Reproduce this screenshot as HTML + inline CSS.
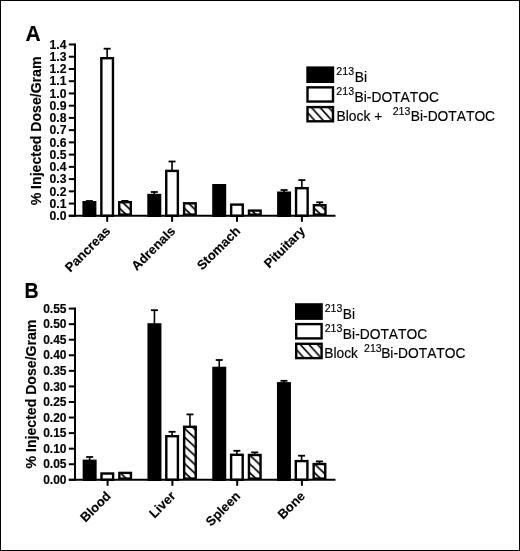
<!DOCTYPE html>
<html><head><meta charset="utf-8"><style>
html,body{margin:0;padding:0;background:#fff;font-family:"Liberation Sans",sans-serif;}
svg{display:block;will-change:transform;}
.ax{stroke:#000;stroke-width:2;}
text{font-family:"Liberation Sans",sans-serif;fill:#000;font-kerning:none;stroke:#000;stroke-width:0.15px;stroke-linejoin:round;}
.bar{stroke:#000;stroke-width:2.4;}
.eb{stroke:#000;stroke-width:1.6;}
.ec{stroke:#000;stroke-width:1.8;}
</style></head><body>
<svg width="520" height="551" viewBox="0 0 520 551">
<defs>
<pattern id="hatch" patternUnits="userSpaceOnUse" width="9.263" height="8.800" patternTransform="translate(0 3.100)"><rect x="-1" y="-1" width="11.263" height="10.800" fill="#fff"/><path d="M-9.263,-8.800 L18.526,17.600 M-9.263,0 L9.263,17.600 M0,-8.800 L18.526,8.800" stroke="#000" stroke-width="1.6"/></pattern>
<pattern id="hatchL" patternUnits="userSpaceOnUse" width="8.600" height="9.460" patternTransform="translate(0 3.260)"><rect x="-1" y="-1" width="10.600" height="11.460" fill="#fff"/><path d="M-8.600,-9.460 L17.200,18.920 M-8.600,0 L8.600,18.920 M0,-9.460 L17.200,9.460" stroke="#000" stroke-width="1.7"/></pattern>

</defs>
<rect x="0" y="0" width="520" height="551" fill="#fff"/>
<rect x="0.5" y="0.5" width="519" height="550" fill="none" stroke="#000" stroke-width="1"/>
<g fill="#000">
<text x="0.00" y="0" transform="translate(25.58 40.50) scale(0.9450 1.0000)" font-size="22.24" font-weight="bold">A</text>
<text x="0.00" y="0" transform="translate(24.54 297.90) scale(0.8987 1.0000)" font-size="21.80" font-weight="bold">B</text>
<text x="-74.44" y="0" transform="translate(41.00 130.90) rotate(-90)" font-size="14.10" font-weight="bold">% Injected Dose/Gram</text>
<text x="-74.44" y="0" transform="translate(36.20 394.00) rotate(-90)" font-size="14.10" font-weight="bold">% Injected Dose/Gram</text>
<line x1="75.0" y1="43.50" x2="75.0" y2="216.80" class="ax"/>
<line x1="68.8" y1="215.80" x2="75.0" y2="215.80" class="ax"/>
<text x="-16.96" y="0" transform="translate(66.50 220.00)" font-size="12.20" font-weight="bold">0.0</text>
<line x1="68.8" y1="203.56" x2="75.0" y2="203.56" class="ax"/>
<text x="-16.96" y="0" transform="translate(66.50 207.76)" font-size="12.20" font-weight="bold">0.1</text>
<line x1="68.8" y1="191.33" x2="75.0" y2="191.33" class="ax"/>
<text x="-16.96" y="0" transform="translate(66.50 195.53)" font-size="12.20" font-weight="bold">0.2</text>
<line x1="68.8" y1="179.09" x2="75.0" y2="179.09" class="ax"/>
<text x="-16.96" y="0" transform="translate(66.50 183.28)" font-size="12.20" font-weight="bold">0.3</text>
<line x1="68.8" y1="166.86" x2="75.0" y2="166.86" class="ax"/>
<text x="-16.96" y="0" transform="translate(66.50 171.06)" font-size="12.20" font-weight="bold">0.4</text>
<line x1="68.8" y1="154.62" x2="75.0" y2="154.62" class="ax"/>
<text x="-16.96" y="0" transform="translate(66.50 158.82)" font-size="12.20" font-weight="bold">0.5</text>
<line x1="68.8" y1="142.38" x2="75.0" y2="142.38" class="ax"/>
<text x="-16.96" y="0" transform="translate(66.50 146.58)" font-size="12.20" font-weight="bold">0.6</text>
<line x1="68.8" y1="130.15" x2="75.0" y2="130.15" class="ax"/>
<text x="-16.96" y="0" transform="translate(66.50 134.35)" font-size="12.20" font-weight="bold">0.7</text>
<line x1="68.8" y1="117.91" x2="75.0" y2="117.91" class="ax"/>
<text x="-16.96" y="0" transform="translate(66.50 122.11)" font-size="12.20" font-weight="bold">0.8</text>
<line x1="68.8" y1="105.68" x2="75.0" y2="105.68" class="ax"/>
<text x="-16.96" y="0" transform="translate(66.50 109.88)" font-size="12.20" font-weight="bold">0.9</text>
<line x1="68.8" y1="93.44" x2="75.0" y2="93.44" class="ax"/>
<text x="-16.96" y="0" transform="translate(66.50 97.64)" font-size="12.20" font-weight="bold">1.0</text>
<line x1="68.8" y1="81.20" x2="75.0" y2="81.20" class="ax"/>
<text x="-16.96" y="0" transform="translate(66.50 85.40)" font-size="12.20" font-weight="bold">1.1</text>
<line x1="68.8" y1="68.97" x2="75.0" y2="68.97" class="ax"/>
<text x="-16.96" y="0" transform="translate(66.50 73.23)" font-size="12.20" font-weight="bold">1.2</text>
<line x1="68.8" y1="56.73" x2="75.0" y2="56.73" class="ax"/>
<text x="-16.96" y="0" transform="translate(66.50 60.92)" font-size="12.20" font-weight="bold">1.3</text>
<line x1="68.8" y1="44.50" x2="75.0" y2="44.50" class="ax"/>
<text x="-16.96" y="0" transform="translate(66.50 48.69)" font-size="12.20" font-weight="bold">1.4</text>
<line x1="75.0" y1="307.58" x2="75.0" y2="480.80" class="ax"/>
<line x1="68.8" y1="479.80" x2="75.0" y2="479.80" class="ax"/>
<text x="-23.36" y="0" transform="translate(66.49 483.93)" font-size="12.00" font-weight="bold">0.00</text>
<line x1="68.8" y1="464.24" x2="75.0" y2="464.24" class="ax"/>
<text x="-23.36" y="0" transform="translate(66.49 468.37)" font-size="12.00" font-weight="bold">0.05</text>
<line x1="68.8" y1="448.67" x2="75.0" y2="448.67" class="ax"/>
<text x="-23.36" y="0" transform="translate(66.49 452.80)" font-size="12.00" font-weight="bold">0.10</text>
<line x1="68.8" y1="433.11" x2="75.0" y2="433.11" class="ax"/>
<text x="-23.36" y="0" transform="translate(66.49 437.24)" font-size="12.00" font-weight="bold">0.15</text>
<line x1="68.8" y1="417.54" x2="75.0" y2="417.54" class="ax"/>
<text x="-23.36" y="0" transform="translate(66.49 421.67)" font-size="12.00" font-weight="bold">0.20</text>
<line x1="68.8" y1="401.98" x2="75.0" y2="401.98" class="ax"/>
<text x="-23.36" y="0" transform="translate(66.49 406.11)" font-size="12.00" font-weight="bold">0.25</text>
<line x1="68.8" y1="386.41" x2="75.0" y2="386.41" class="ax"/>
<text x="-23.36" y="0" transform="translate(66.49 390.53)" font-size="12.00" font-weight="bold">0.30</text>
<line x1="68.8" y1="370.85" x2="75.0" y2="370.85" class="ax"/>
<text x="-23.36" y="0" transform="translate(66.49 374.97)" font-size="12.00" font-weight="bold">0.35</text>
<line x1="68.8" y1="355.28" x2="75.0" y2="355.28" class="ax"/>
<text x="-23.36" y="0" transform="translate(66.49 359.41)" font-size="12.00" font-weight="bold">0.40</text>
<line x1="68.8" y1="339.72" x2="75.0" y2="339.72" class="ax"/>
<text x="-23.36" y="0" transform="translate(66.49 343.85)" font-size="12.00" font-weight="bold">0.45</text>
<line x1="68.8" y1="324.15" x2="75.0" y2="324.15" class="ax"/>
<text x="-23.36" y="0" transform="translate(66.49 328.28)" font-size="12.00" font-weight="bold">0.50</text>
<line x1="68.8" y1="308.58" x2="75.0" y2="308.58" class="ax"/>
<text x="-23.36" y="0" transform="translate(66.49 312.72)" font-size="12.00" font-weight="bold">0.55</text>
<line x1="89.40" y1="201.00" x2="89.40" y2="202.00" class="eb"/>
<line x1="85.90" y1="201.00" x2="92.90" y2="201.00" class="ec"/>
<rect x="83.60" y="202.20" width="11.60" height="13.60" fill="#000" class="bar"/>
<line x1="107.15" y1="48.70" x2="107.15" y2="58.00" class="eb"/>
<line x1="103.65" y1="48.70" x2="110.65" y2="48.70" class="ec"/>
<rect x="101.35" y="58.20" width="11.60" height="157.60" fill="#fff" class="bar"/>
<line x1="125.00" y1="200.90" x2="125.00" y2="202.00" class="eb"/>
<line x1="121.50" y1="200.90" x2="128.50" y2="200.90" class="ec"/>
<g transform="translate(120.40 214.80)"><rect x="-1.20" y="-12.60" width="11.60" height="12.40" fill="url(#hatch)" class="bar"/></g>
<line x1="154.30" y1="192.00" x2="154.30" y2="194.80" class="eb"/>
<line x1="150.80" y1="192.00" x2="157.80" y2="192.00" class="ec"/>
<rect x="148.50" y="195.00" width="11.60" height="20.80" fill="#000" class="bar"/>
<line x1="172.05" y1="161.50" x2="172.05" y2="170.70" class="eb"/>
<line x1="168.55" y1="161.50" x2="175.55" y2="161.50" class="ec"/>
<rect x="166.25" y="170.90" width="11.60" height="44.90" fill="#fff" class="bar"/>
<g transform="translate(185.30 214.80)"><rect x="-1.20" y="-11.50" width="11.60" height="11.30" fill="url(#hatch)" class="bar"/></g>
<rect x="213.40" y="185.20" width="11.60" height="30.60" fill="#000" class="bar"/>
<rect x="231.15" y="204.60" width="11.60" height="11.20" fill="#fff" class="bar"/>
<g transform="translate(250.20 214.80)"><rect x="-1.20" y="-4.20" width="11.60" height="4.00" fill="url(#hatch)" class="bar"/></g>
<line x1="284.10" y1="190.00" x2="284.10" y2="192.50" class="eb"/>
<line x1="280.60" y1="190.00" x2="287.60" y2="190.00" class="ec"/>
<rect x="278.30" y="192.70" width="11.60" height="23.10" fill="#000" class="bar"/>
<line x1="301.85" y1="180.10" x2="301.85" y2="188.00" class="eb"/>
<line x1="298.35" y1="180.10" x2="305.35" y2="180.10" class="ec"/>
<rect x="296.05" y="188.20" width="11.60" height="27.60" fill="#fff" class="bar"/>
<line x1="319.70" y1="202.30" x2="319.70" y2="205.00" class="eb"/>
<line x1="316.20" y1="202.30" x2="323.20" y2="202.30" class="ec"/>
<g transform="translate(315.10 214.80)"><rect x="-1.20" y="-9.60" width="11.60" height="9.40" fill="url(#hatch)" class="bar"/></g>
<line x1="89.65" y1="457.00" x2="89.65" y2="460.60" class="eb"/>
<line x1="86.15" y1="457.00" x2="93.15" y2="457.00" class="ec"/>
<rect x="83.85" y="460.80" width="11.60" height="19.00" fill="#000" class="bar"/>
<rect x="101.50" y="473.50" width="11.60" height="6.30" fill="#fff" class="bar"/>
<g transform="translate(120.55 478.80)"><rect x="-1.20" y="-5.90" width="11.60" height="5.70" fill="url(#hatch)" class="bar"/></g>
<line x1="154.45" y1="310.20" x2="154.45" y2="324.20" class="eb"/>
<line x1="150.95" y1="310.20" x2="157.95" y2="310.20" class="ec"/>
<rect x="148.65" y="324.40" width="11.60" height="155.40" fill="#000" class="bar"/>
<line x1="172.10" y1="431.80" x2="172.10" y2="436.00" class="eb"/>
<line x1="168.60" y1="431.80" x2="175.60" y2="431.80" class="ec"/>
<rect x="166.30" y="436.20" width="11.60" height="43.60" fill="#fff" class="bar"/>
<line x1="189.95" y1="414.40" x2="189.95" y2="426.60" class="eb"/>
<line x1="186.45" y1="414.40" x2="193.45" y2="414.40" class="ec"/>
<g transform="translate(185.35 478.80)"><rect x="-1.20" y="-52.00" width="11.60" height="51.80" fill="url(#hatch)" class="bar"/></g>
<line x1="219.25" y1="360.00" x2="219.25" y2="367.70" class="eb"/>
<line x1="215.75" y1="360.00" x2="222.75" y2="360.00" class="ec"/>
<rect x="213.45" y="367.90" width="11.60" height="111.90" fill="#000" class="bar"/>
<line x1="236.90" y1="450.80" x2="236.90" y2="454.60" class="eb"/>
<line x1="233.40" y1="450.80" x2="240.40" y2="450.80" class="ec"/>
<rect x="231.10" y="454.80" width="11.60" height="25.00" fill="#fff" class="bar"/>
<line x1="254.75" y1="452.40" x2="254.75" y2="454.80" class="eb"/>
<line x1="251.25" y1="452.40" x2="258.25" y2="452.40" class="ec"/>
<g transform="translate(250.15 478.80)"><rect x="-1.20" y="-23.80" width="11.60" height="23.60" fill="url(#hatch)" class="bar"/></g>
<line x1="283.95" y1="380.80" x2="283.95" y2="383.10" class="eb"/>
<line x1="280.45" y1="380.80" x2="287.45" y2="380.80" class="ec"/>
<rect x="278.15" y="383.30" width="11.60" height="96.50" fill="#000" class="bar"/>
<line x1="301.60" y1="455.70" x2="301.60" y2="460.90" class="eb"/>
<line x1="298.10" y1="455.70" x2="305.10" y2="455.70" class="ec"/>
<rect x="295.80" y="461.10" width="11.60" height="18.70" fill="#fff" class="bar"/>
<line x1="319.45" y1="461.40" x2="319.45" y2="463.80" class="eb"/>
<line x1="315.95" y1="461.40" x2="322.95" y2="461.40" class="ec"/>
<g transform="translate(314.85 478.80)"><rect x="-1.20" y="-14.80" width="11.60" height="14.60" fill="url(#hatch)" class="bar"/></g>
<line x1="68.8" y1="215.80" x2="335.5" y2="215.80" class="ax"/>
<line x1="107.20" y1="215.80" x2="107.20" y2="221.80" class="ax"/>
<text x="-57.82" y="0" transform="translate(111.20 231.90) rotate(-45)" font-size="13.00" font-weight="bold">Pancreas</text>
<line x1="172.10" y1="215.80" x2="172.10" y2="221.80" class="ax"/>
<text x="-55.63" y="0" transform="translate(176.10 231.90) rotate(-45)" font-size="13.00" font-weight="bold">Adrenals</text>
<line x1="237.00" y1="215.80" x2="237.00" y2="221.80" class="ax"/>
<text x="-54.90" y="0" transform="translate(241.00 231.90) rotate(-45)" font-size="13.00" font-weight="bold">Stomach</text>
<line x1="301.90" y1="215.80" x2="301.90" y2="221.80" class="ax"/>
<text x="-52.01" y="0" transform="translate(305.90 231.90) rotate(-45)" font-size="13.00" font-weight="bold">Pituitary</text>
<line x1="68.8" y1="479.80" x2="335.5" y2="479.80" class="ax"/>
<line x1="107.60" y1="479.80" x2="107.60" y2="485.80" class="ax"/>
<text x="-36.82" y="0" transform="translate(111.60 496.80) rotate(-45)" font-size="13.00" font-weight="bold">Blood</text>
<line x1="172.40" y1="479.80" x2="172.40" y2="485.80" class="ax"/>
<text x="-31.07" y="0" transform="translate(176.40 496.80) rotate(-45)" font-size="13.00" font-weight="bold">Liver</text>
<line x1="237.20" y1="479.80" x2="237.20" y2="485.80" class="ax"/>
<text x="-42.62" y="0" transform="translate(241.20 496.80) rotate(-45)" font-size="13.00" font-weight="bold">Spleen</text>
<line x1="301.90" y1="479.80" x2="301.90" y2="485.80" class="ax"/>
<text x="-32.50" y="0" transform="translate(305.90 496.80) rotate(-45)" font-size="13.00" font-weight="bold">Bone</text>
<rect x="307.50" y="67.60" width="25.50" height="14.20" fill="#000" class="bar"/>
<rect x="307.50" y="87.35" width="25.50" height="14.20" fill="#fff" class="bar"/>
<g transform="translate(308.70 120.10)"><rect x="-1.20" y="-13.00" width="25.50" height="14.20" fill="url(#hatchL)" class="bar"/></g>
<rect x="296.20" y="304.40" width="25.40" height="14.30" fill="#000" class="bar"/>
<rect x="296.20" y="324.10" width="25.40" height="14.30" fill="#fff" class="bar"/>
<g transform="translate(297.40 356.90)"><rect x="-1.20" y="-13.10" width="25.40" height="14.30" fill="url(#hatchL)" class="bar"/></g>
<text x="0.00" y="0" transform="translate(336.37 75.30)" font-size="10.60" font-weight="normal">213</text>
<text x="0.00" y="0" transform="translate(354.77 81.70)" font-size="13.80" font-weight="normal">Bi</text>
<text x="0.00" y="0" transform="translate(336.37 95.10)" font-size="10.60" font-weight="normal">213</text>
<text x="0.00" y="0" transform="translate(354.57 101.60)" font-size="13.80" font-weight="normal">Bi-DOTATOC</text>
<text x="0.00" y="0" transform="translate(336.57 121.10)" font-size="13.80" font-weight="normal">Block +</text>
<text x="0.00" y="0" transform="translate(392.67 115.00)" font-size="10.60" font-weight="normal">213</text>
<text x="0.00" y="0" transform="translate(410.77 121.10)" font-size="13.80" font-weight="normal">Bi-DOTATOC</text>
<text x="0.00" y="0" transform="translate(324.67 311.90)" font-size="10.60" font-weight="normal">213</text>
<text x="0.00" y="0" transform="translate(342.87 318.90)" font-size="13.80" font-weight="normal">Bi</text>
<text x="0.00" y="0" transform="translate(324.67 331.70)" font-size="10.60" font-weight="normal">213</text>
<text x="0.00" y="0" transform="translate(342.87 338.70)" font-size="13.80" font-weight="normal">Bi-DOTATOC</text>
<text x="0.00" y="0" transform="translate(324.27 358.40)" font-size="13.80" font-weight="normal">Block</text>
<text x="0.00" y="0" transform="translate(364.07 351.80)" font-size="10.60" font-weight="normal">213</text>
<text x="0.00" y="0" transform="translate(381.17 358.40)" font-size="13.80" font-weight="normal">Bi-DOTATOC</text>
</g>
</svg>
</body></html>
